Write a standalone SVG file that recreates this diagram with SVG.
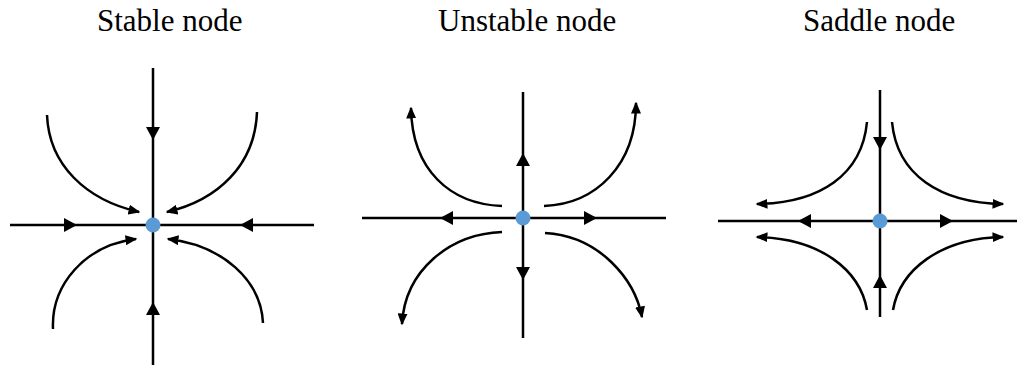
<svg xmlns="http://www.w3.org/2000/svg" xmlns:xlink="http://www.w3.org/1999/xlink" width="1017" height="365" viewBox="0 0 1017 365">
<style>
.t{font-family:"Liberation Serif","Times New Roman",serif;font-size:31px;fill:#000}
.ax{stroke:#000;stroke-width:2.5;fill:none}
.cv{stroke:#000;stroke-width:2.5;fill:none;marker-end:url(#a)}
.dot{fill:#5b9bd5}
</style>
<defs>
<marker id="a" viewBox="0 0 12 10" refX="10.5" refY="5" markerWidth="12" markerHeight="10" orient="auto" markerUnits="userSpaceOnUse">
<path d="M0,0 L12,5 L0,10 z" fill="#000"/>
</marker>
<path id="tri" d="M0,0 L-13,-7 L-13,7 z" fill="#000"/>
</defs>
<g id="stable">
<text class="t" x="97" y="31">Stable node</text>
<g class="connectors">
<line class="ax" x1="153" y1="68" x2="153" y2="365"/>
<line class="ax" x1="10" y1="225" x2="314" y2="225"/>
<use xlink:href="#tri" transform="translate(153,140) rotate(90)"/>
<use xlink:href="#tri" transform="translate(153,302) rotate(-90)"/>
<use xlink:href="#tri" transform="translate(77,225)"/>
<use xlink:href="#tri" transform="translate(240,225) rotate(180)"/>
<path class="cv" d="M47,115 C49,165 86,200 139,212"/>
<path class="cv" d="M257,112 C255,165 218,200 167,212"/>
<path class="cv" d="M53,329 C51,285 85,245 136,239"/>
<path class="cv" d="M263,323 C261,280 222,245 168,239"/>
</g>
<circle class="dot" cx="153" cy="225" r="7.5"/>
</g>
<g id="unstable">
<text class="t" x="438" y="31">Unstable node</text>
<g class="connectors">
<line class="ax" x1="523" y1="92" x2="523" y2="338"/>
<line class="ax" x1="362" y1="218" x2="666" y2="218"/>
<use xlink:href="#tri" transform="translate(523,153) rotate(-90)"/>
<use xlink:href="#tri" transform="translate(523,280) rotate(90)"/>
<use xlink:href="#tri" transform="translate(440,218) rotate(180)"/>
<use xlink:href="#tri" transform="translate(597,218)"/>
<path class="cv" d="M502,206 C450,204 412,170 411,108"/>
<path class="cv" d="M544,206 C596,204 636,165 636,103"/>
<path class="cv" d="M502,232 C450,234 405,270 402,324"/>
<path class="cv" d="M545,233 C600,236 635,280 642,317"/>
</g>
<circle class="dot" cx="523" cy="218" r="7.5"/>
</g>
<g id="saddle">
<text class="t" x="803" y="31">Saddle node</text>
<g class="connectors">
<line class="ax" x1="880" y1="90" x2="880" y2="317"/>
<line class="ax" x1="718" y1="221" x2="1017" y2="221"/>
<use xlink:href="#tri" transform="translate(880,150) rotate(90)"/>
<use xlink:href="#tri" transform="translate(880,275) rotate(-90)"/>
<use xlink:href="#tri" transform="translate(798,221) rotate(180)"/>
<use xlink:href="#tri" transform="translate(953,221)"/>
<path class="cv" d="M867,122 C862,175 820,203 757,204"/>
<path class="cv" d="M892,122 C897,175 940,203 1003,204"/>
<path class="cv" d="M867,310 C860,270 820,238 757,237"/>
<path class="cv" d="M893,310 C900,270 940,238 1003,237"/>
</g>
<circle class="dot" cx="880" cy="221" r="7.5"/>
</g>
</svg>
